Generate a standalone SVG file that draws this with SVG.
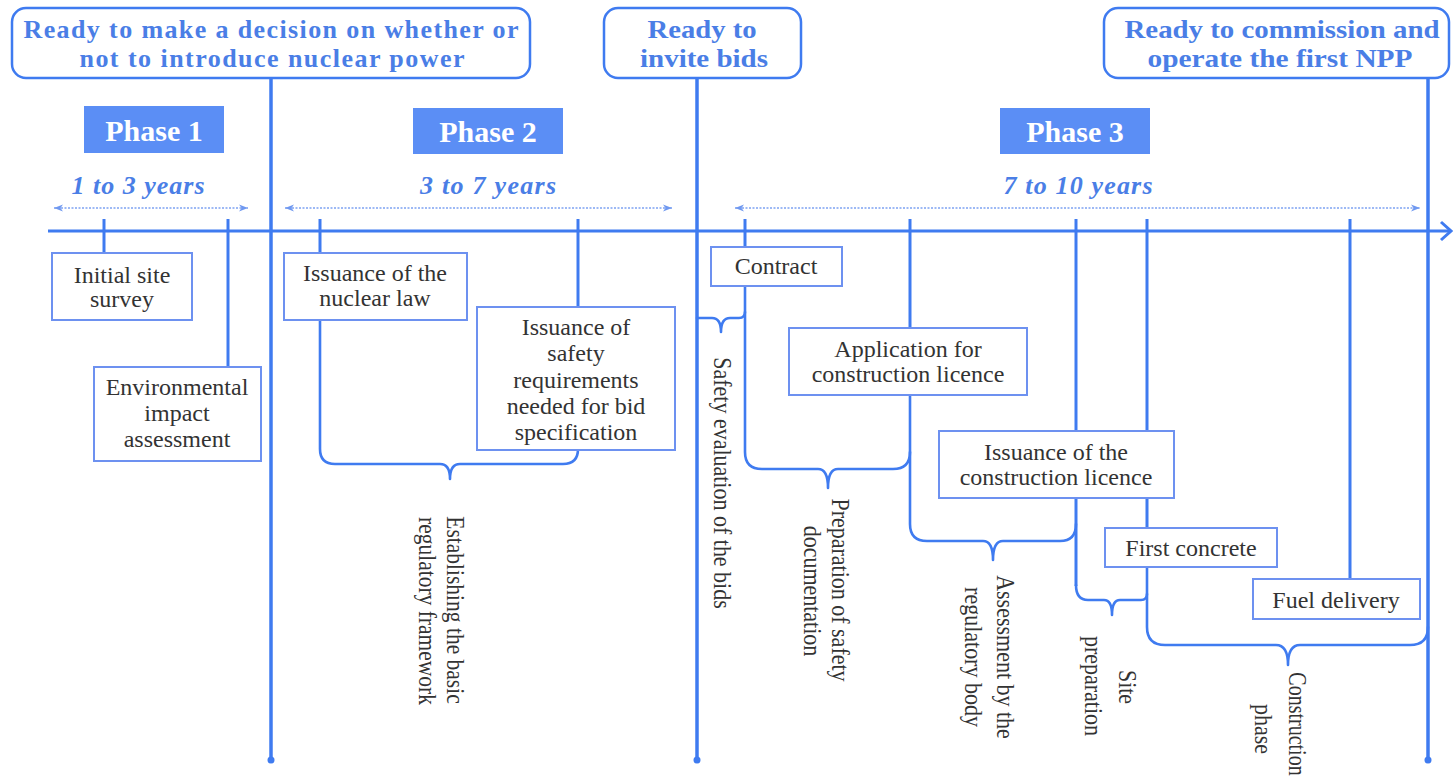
<svg xmlns="http://www.w3.org/2000/svg" width="1453" height="778" viewBox="0 0 1453 778" font-family="'Liberation Serif', 'DejaVu Serif', serif">
  <defs>
    <style>
      .ms{fill:none;stroke:#3f7bf0;stroke-width:3.5}
      .ln{fill:none;stroke:#3f7bf0;stroke-width:3}
      .br{fill:none;stroke:#3f7bf0;stroke-width:2.6;stroke-linejoin:round;stroke-linecap:round}
      .span{fill:none;stroke:#7da2f2;stroke-width:1.6;stroke-dasharray:2 1.5}
      .callout{fill:#fff;stroke:#3f7bf0;stroke-width:2.5}
      text{font-family:'Liberation Serif','DejaVu Serif',serif}
      .ct{font-weight:bold;font-size:26px;fill:#4a7ee6;text-anchor:middle}
      .ph{fill:#5b8ef5}
      .pt{font-weight:bold;font-size:30px;fill:#fff;text-anchor:middle}
      .yr{font-style:italic;font-weight:bold;font-size:26px;fill:#4a7ee6;text-anchor:middle}
      .box{fill:#fff;stroke:#6d91f0;stroke-width:2}
      .bt{font-size:24px;fill:#333;text-anchor:middle}
      .vt{font-size:25px;fill:#333;text-anchor:middle}
      .dot{fill:#3f7bf0}
    </style>
    <marker id="spanHead" markerWidth="10" markerHeight="8" refX="9" refY="4" orient="auto-start-reverse" markerUnits="userSpaceOnUse">
      <path d="M0,0.5 L9,4 L0,7.5 L2.5,4 Z" fill="#6f98f0"/>
    </marker>
  </defs>

  <!-- connectors: axis, milestone lines, ticks and braces -->
  <g id="connectors">
    <!-- time axis -->
    <line class="ln" x1="48" y1="231" x2="1450" y2="231"/>
    <path class="ln" d="M1441,222 L1451,231 L1441,240"/>

    <!-- phase duration spans -->
    <line class="span" x1="54" y1="208" x2="248" y2="208" marker-start="url(#spanHead)" marker-end="url(#spanHead)"/>
    <line class="span" x1="285" y1="208" x2="672" y2="208" marker-start="url(#spanHead)" marker-end="url(#spanHead)"/>
    <line class="span" x1="735" y1="208" x2="1420" y2="208" marker-start="url(#spanHead)" marker-end="url(#spanHead)"/>

    <!-- milestone lines -->
    <line class="ms" x1="271" y1="78" x2="271" y2="760"/>
    <circle class="dot" cx="271" cy="760" r="3.5"/>
    <line class="ms" x1="697" y1="78" x2="697" y2="760"/>
    <circle class="dot" cx="697" cy="760" r="3.5"/>
    <line class="ms" x1="1428" y1="78" x2="1428" y2="760"/>
    <circle class="dot" cx="1428" cy="760" r="3.5"/>

    <!-- event ticks -->
    <line class="ln" x1="104" y1="219" x2="104" y2="253"/>
    <line class="ln" x1="228" y1="219" x2="228" y2="367"/>
    <line class="ln" x1="320" y1="219" x2="320" y2="253"/>
    <line class="ln" x1="578" y1="219" x2="578" y2="307"/>
    <line class="ln" x1="745" y1="219" x2="745" y2="247"/>
    <line class="ln" x1="910" y1="219" x2="910" y2="328"/>
    <line class="ln" x1="1076" y1="219" x2="1076" y2="431"/>
    <line class="ln" x1="1147" y1="219" x2="1147" y2="528"/>
    <line class="ln" x1="1350" y1="219" x2="1350" y2="579"/>

    <!-- brace: regulatory framework -->
    <path class="br" d="M320,320 V449 Q320,464 335,464 H440 Q450,464 450,479 Q450,464 460,464 H563 Q578,464 578,449"/>
    <!-- brace: bid evaluation -->
    <path class="br" d="M697,318 H712 Q721,318 721,332 Q721,318 730,318 H739 Q745,318 745,312"/>
    <!-- brace: safety documentation -->
    <path class="br" d="M745,286 V452 Q745,469 762,469 H818 Q828,469 828,488 Q828,469 838,469 H893 Q910,469 910,452"/>
    <!-- brace: regulatory assessment -->
    <path class="br" d="M910,395 V524 Q910,541 927,541 H983 Q993,541 993,560 Q993,541 1003,541 H1060 Q1076,541 1076,524"/>
    <line class="ln" x1="1076" y1="498" x2="1076" y2="586"/>
    <!-- brace: site preparation -->
    <path class="br" d="M1076,585 Q1076,600 1088,600 H1104 Q1112,600 1112,615 Q1112,600 1120,600 H1141 Q1147,600 1147,594"/>
    <!-- brace: construction phase -->
    <path class="br" d="M1147,567 V627 Q1147,645 1165,645 H1276 Q1288,645 1288,665 Q1288,645 1300,645 H1410 Q1428,645 1428,627"/>
  </g>

  <!-- milestone callouts -->
  <g id="milestone-decision">
    <rect class="callout" x="12" y="8" width="518" height="70" rx="14"/>
    <text class="ct" x="271" y="38" textLength="495" lengthAdjust="spacing">Ready to make a decision on whether or</text>
    <text class="ct" x="272" y="67" textLength="385" lengthAdjust="spacing">not to introduce nuclear power</text>
  </g>
  <g id="milestone-bids">
    <rect class="callout" x="604" y="8" width="197" height="70" rx="14"/>
    <text class="ct" x="702" y="38" textLength="109" lengthAdjust="spacingAndGlyphs">Ready to</text>
    <text class="ct" x="704" y="67" textLength="128" lengthAdjust="spacingAndGlyphs">invite bids</text>
  </g>
  <g id="milestone-commission">
    <rect class="callout" x="1104" y="8" width="345" height="70" rx="14"/>
    <text class="ct" x="1282" y="38" textLength="315" lengthAdjust="spacingAndGlyphs">Ready to commission and</text>
    <text class="ct" x="1280" y="67" textLength="265" lengthAdjust="spacingAndGlyphs">operate the first NPP</text>
  </g>

  <!-- phase headers -->
  <g id="phase-1">
    <rect class="ph" x="84" y="106" width="140" height="47"/>
    <text class="pt" x="154" y="141">Phase 1</text>
    <text class="yr" x="138" y="194" textLength="133" lengthAdjust="spacing">1 to 3 years</text>
  </g>
  <g id="phase-2">
    <rect class="ph" x="413" y="108" width="150" height="46"/>
    <text class="pt" x="488" y="142">Phase 2</text>
    <text class="yr" x="488" y="194" textLength="136" lengthAdjust="spacing">3 to 7 years</text>
  </g>
  <g id="phase-3">
    <rect class="ph" x="1000" y="108" width="150" height="46"/>
    <text class="pt" x="1075" y="142">Phase 3</text>
    <text class="yr" x="1078" y="194" textLength="149" lengthAdjust="spacing">7 to 10 years</text>
  </g>

  <!-- events -->
  <g id="site-survey">
    <rect class="box" x="52" y="253" width="140" height="67"/>
    <text class="bt" x="122" y="283">Initial site</text>
    <text class="bt" x="122" y="307">survey</text>
  </g>
  <g id="eia">
    <rect class="box" x="94" y="367" width="167" height="94"/>
    <text class="bt" x="177" y="395">Environmental</text>
    <text class="bt" x="177" y="421">impact</text>
    <text class="bt" x="177" y="447">assessment</text>
  </g>
  <g id="nuclear-law">
    <rect class="box" x="284" y="253" width="183" height="67"/>
    <text class="bt" x="375" y="281">Issuance of the</text>
    <text class="bt" x="375" y="306">nuclear law</text>
  </g>
  <g id="safety-requirements">
    <rect class="box" x="477" y="307" width="198" height="143"/>
    <text class="bt" x="576" y="335">Issuance of</text>
    <text class="bt" x="576" y="361">safety</text>
    <text class="bt" x="576" y="388">requirements</text>
    <text class="bt" x="576" y="414">needed for bid</text>
    <text class="bt" x="576" y="440">specification</text>
  </g>
  <g id="contract">
    <rect class="box" x="711" y="247" width="131" height="39"/>
    <text class="bt" x="776" y="274">Contract</text>
  </g>
  <g id="licence-application">
    <rect class="box" x="789" y="328" width="238" height="67"/>
    <text class="bt" x="908" y="357">Application for</text>
    <text class="bt" x="908" y="382">construction licence</text>
  </g>
  <g id="licence-issuance">
    <rect class="box" x="939" y="431" width="235" height="67"/>
    <text class="bt" x="1056" y="460">Issuance of the</text>
    <text class="bt" x="1056" y="485">construction licence</text>
  </g>
  <g id="first-concrete">
    <rect class="box" x="1105" y="528" width="172" height="39"/>
    <text class="bt" x="1191" y="556">First concrete</text>
  </g>
  <g id="fuel-delivery">
    <rect class="box" x="1253" y="579" width="167" height="40"/>
    <text class="bt" x="1336" y="608">Fuel delivery</text>
  </g>

  <!-- activity labels under braces -->
  <g id="label-framework">
    <text class="vt" transform="translate(447,610) rotate(90) scale(0.86,1)">Establishing the basic</text>
    <text class="vt" transform="translate(419,611) rotate(90) scale(0.86,1)">regulatory framework</text>
  </g>
  <g id="label-bid-evaluation">
    <text class="vt" transform="translate(714,483) rotate(90) scale(0.88,1)">Safety evaluation of the bids</text>
  </g>
  <g id="label-documentation">
    <text class="vt" transform="translate(832,590) rotate(90) scale(0.88,1)">Preparation of safety</text>
    <text class="vt" transform="translate(804,591) rotate(90) scale(0.88,1)">documentation</text>
  </g>
  <g id="label-assessment">
    <text class="vt" transform="translate(997,657) rotate(90) scale(0.88,1)">Assessment  by the</text>
    <text class="vt" transform="translate(965,657) rotate(90) scale(0.88,1)">regulatory body</text>
  </g>
  <g id="label-site-preparation">
    <text class="vt" transform="translate(1119,687) rotate(90) scale(0.88,1)">Site</text>
    <text class="vt" transform="translate(1085,686) rotate(90) scale(0.88,1)">preparation</text>
  </g>
  <g id="label-construction">
    <text class="vt" transform="translate(1289,724) rotate(90) scale(0.8,1)">Construction</text>
    <text class="vt" transform="translate(1255,729) rotate(90) scale(0.88,1)">phase</text>
  </g>
</svg>
